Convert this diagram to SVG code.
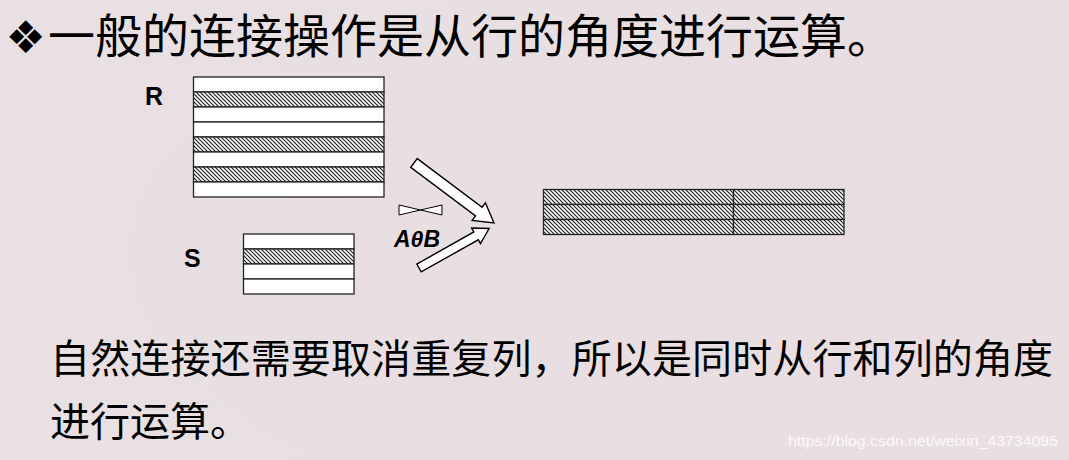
<svg xmlns="http://www.w3.org/2000/svg" width="1069" height="460" viewBox="0 0 1069 460">
  <defs>
    <pattern id="hatch" patternUnits="userSpaceOnUse" width="4" height="4">
      <rect width="4" height="4" fill="#ffffff"/>
      <path d="M-1,-1 L5,5 M-1,3 L1,5 M3,-1 L5,1" stroke="#222222" stroke-width="1.2"/>
    </pattern>
    <radialGradient id="bg" cx="0.75" cy="0.55" r="0.8">
      <stop offset="0" stop-color="#e9dde1"/>
      <stop offset="1" stop-color="#e8e0e3"/>
    </radialGradient>
  </defs>
  <style>
    .cjk { font-family: "Noto Sans CJK SC", sans-serif; fill: #000000; }
    .lbl { font-family: "Liberation Sans", Arial, sans-serif; font-weight: bold; fill: #000000; }
    .row { fill: #ffffff; stroke: #222222; stroke-width: 1.3; }
    .hrow { fill: url(#hatch); stroke: #222222; stroke-width: 1.3; }
    .arrow { fill: #ffffff; stroke: #000000; stroke-width: 1.4; stroke-linejoin: miter; }
    .wm { font-family: "Liberation Sans", Arial, sans-serif; font-size: 15.5px; fill: #ffffff; fill-opacity: 0.85; }
  </style>

  <rect x="0" y="0" width="1069" height="460" fill="url(#bg)"/>

  <g id="title">
    <text x="5.5" y="53" font-family="DejaVu Sans, sans-serif" font-size="45" fill="#000000">❖</text>
    <text class="cjk" x="48" y="53" font-size="47">一般的连接操作是从行的角度进行运算。</text>
  </g>

  <g id="R">
    <text class="lbl" x="145" y="105" font-size="25">R</text>
    <rect class="row" x="193.5" y="77" width="190.5" height="15"/>
    <rect class="hrow" x="193.5" y="92" width="190.5" height="15"/>
    <rect class="row" x="193.5" y="107" width="190.5" height="15"/>
    <rect class="row" x="193.5" y="122" width="190.5" height="15"/>
    <rect class="hrow" x="193.5" y="137" width="190.5" height="15"/>
    <rect class="row" x="193.5" y="152" width="190.5" height="15"/>
    <rect class="hrow" x="193.5" y="167" width="190.5" height="15"/>
    <rect class="row" x="193.5" y="182" width="190.5" height="15"/>
  </g>

  <g id="S">
    <text class="lbl" x="184" y="267" font-size="25">S</text>
    <rect class="row" x="243.5" y="234" width="110.5" height="15"/>
    <rect class="hrow" x="243.5" y="249" width="110.5" height="15"/>
    <rect class="row" x="243.5" y="264" width="110.5" height="15"/>
    <rect class="row" x="243.5" y="279" width="110.5" height="15"/>
  </g>

  <g id="join-op">
    <polygon points="399,205 399,215 420.5,210" fill="#ffffff" stroke="#000000" stroke-width="1"/>
    <polygon points="442,205 442,215 420.5,210" fill="#ffffff" stroke="#000000" stroke-width="1"/>
    <text class="lbl" x="394" y="247" font-size="23" font-style="italic">AθB</text>
  </g>

  <g id="result">
    <rect class="hrow" x="543.5" y="189.5" width="190" height="15"/>
    <rect class="hrow" x="733.5" y="189.5" width="110.5" height="15"/>
    <rect class="hrow" x="543.5" y="204.5" width="190" height="15"/>
    <rect class="hrow" x="733.5" y="204.5" width="110.5" height="15"/>
    <rect class="hrow" x="543.5" y="219.5" width="190" height="15"/>
    <rect class="hrow" x="733.5" y="219.5" width="110.5" height="15"/>
  </g>

  <g id="connectors">
    <polygon class="arrow" transform="translate(414,163) rotate(36.87)" points="0,-5.5 81,-5.5 81,-11 100,0 81,11 81,5.5 0,5.5"/>
    <polygon class="arrow" transform="translate(419,268) rotate(-29.4)" points="0,-4.5 65.5,-4.5 65.5,-9 80.5,0 65.5,9 65.5,4.5 0,4.5"/>
  </g>

  <g id="body">
    <text class="cjk" x="50" y="373" font-size="40" textLength="1003" lengthAdjust="spacing">自然连接还需要取消重复列，所以是同时从行和列的角度</text>
    <text class="cjk" x="50" y="436" font-size="40">进行运算。</text>
  </g>

  <text class="wm" x="788" y="446" textLength="270" lengthAdjust="spacingAndGlyphs">https://blog.csdn.net/weixin_43734095</text>
</svg>
